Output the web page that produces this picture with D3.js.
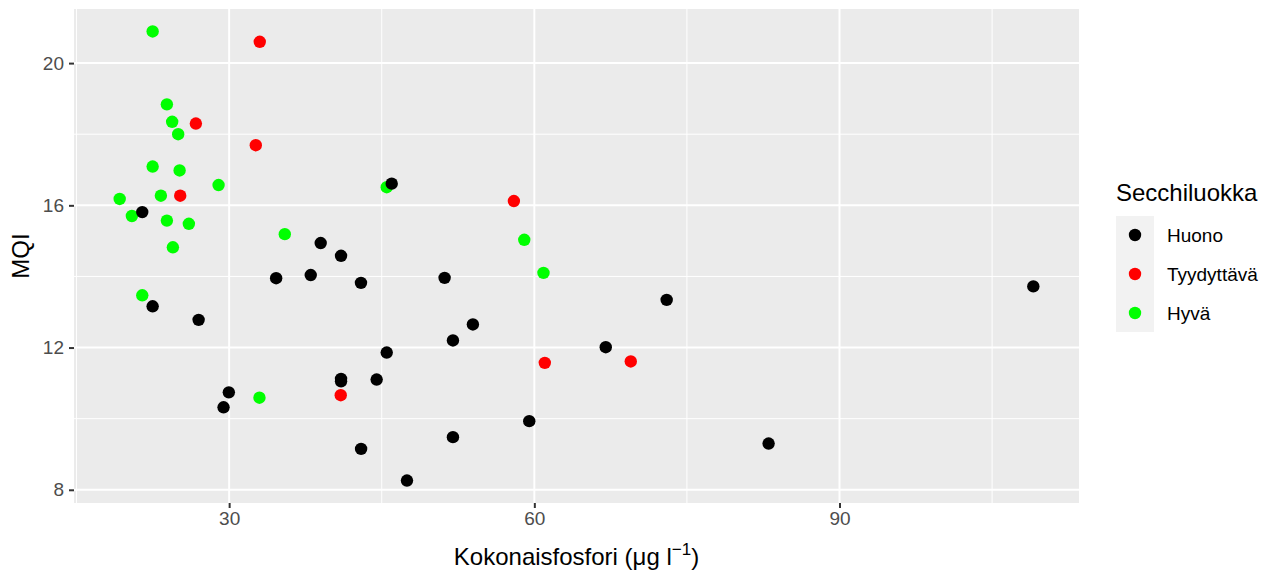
<!DOCTYPE html>
<html>
<head>
<meta charset="utf-8">
<script src="https://cdn.jsdelivr.net/npm/d3@7"></script>
<style>
    body { margin: 0; background: #fff; }
    text { font-family: "Liberation Sans", Arial, sans-serif; }
</style>
</head>
<body>
<div id="chart"></div>
<script>
// data: [kokonaisfosfori, MQI]
var huono = [
    [21.46, 15.81], [45.98, 16.61], [39.0, 14.94], [41.0, 14.58], [38.02, 14.04],
    [34.62, 13.95], [42.96, 13.82], [51.18, 13.96], [73.01, 13.34], [22.48, 13.16],
    [27.0, 12.78], [53.96, 12.65], [52.0, 12.2], [45.49, 11.86], [67.02, 12.01],
    [41.0, 11.12], [41.0, 11.05], [44.5, 11.1], [29.97, 10.74], [29.45, 10.32],
    [59.5, 9.93], [52.0, 9.48], [42.97, 9.15], [47.48, 8.26], [109.05, 13.72],
    [83.03, 9.30]
];
var tyydyttava = [
    [33.01, 20.6], [26.73, 18.3], [32.62, 17.69], [25.19, 16.27], [57.99, 16.12],
    [61.03, 11.57], [69.48, 11.61], [40.97, 10.66]
];
var hyva = [
    [22.48, 20.89], [23.88, 18.84], [24.4, 18.35], [24.99, 18.0], [22.48, 17.09],
    [25.13, 16.98], [28.96, 16.57], [19.24, 16.18], [23.29, 16.27], [20.44, 15.70],
    [23.88, 15.57], [26.04, 15.48], [24.47, 14.82], [35.47, 15.19], [45.49, 16.51],
    [59.01, 15.03], [60.90, 14.10], [21.46, 13.47], [32.98, 10.59]
];
var categories = ["Huono", "Tyydyttävä", "Hyvä"];
var xTicks = [30, 60, 90];
var xMinor = [15, 45, 75, 105];
var yTicks = [8, 12, 16, 20];
var yMinor = [10, 14, 18];

function renderScatter(position) {

    var margin = {top: 9, right: 193, bottom: 71, left: 74},
        width = 1272 - margin.left - margin.right,
        height = 574 - margin.top - margin.bottom;

    var svg = d3.select("#" + position)
        .append("svg")
        .attr("width", 1272)
        .attr("height", 574)
        .append("g")
        .attr("transform", "translate(" + margin.left + "," + margin.top + ")");

    var series = [
        {key: "Hyvä", values: hyva},
        {key: "Tyydyttävä", values: tyydyttava},
        {key: "Huono", values: huono}
    ];
    var all = huono.concat(tyydyttava, hyva);

    // ggplot-style 5% expansion
    var xe = d3.extent(all, function (d) { return d[0]; }),
        ye = d3.extent(all, function (d) { return d[1]; });
    var xp = (xe[1] - xe[0]) * 0.05, yp = (ye[1] - ye[0]) * 0.05;

    var x = d3.scaleLinear().domain([xe[0] - xp, xe[1] + xp]).range([0, width]);
    var y = d3.scaleLinear().domain([ye[0] - yp, ye[1] + yp]).range([height, 0]);

    var color = d3.scaleOrdinal()
        .domain(categories)
        .range(["#000000", "#FF0000", "#00FF00"]);

    // panel
    svg.append("rect")
        .attr("width", width)
        .attr("height", height)
        .attr("fill", "#EBEBEB");

    // minor grid
    svg.append("g").selectAll("line").data(xMinor).enter().append("line")
        .attr("x1", function (d) { return x(d); }).attr("x2", function (d) { return x(d); })
        .attr("y1", 0).attr("y2", height)
        .attr("stroke", "#fff").attr("stroke-width", 1);
    svg.append("g").selectAll("line").data(yMinor).enter().append("line")
        .attr("y1", function (d) { return y(d); }).attr("y2", function (d) { return y(d); })
        .attr("x1", 0).attr("x2", width)
        .attr("stroke", "#fff").attr("stroke-width", 1);

    // major grid
    svg.append("g").selectAll("line").data(xTicks).enter().append("line")
        .attr("x1", function (d) { return x(d); }).attr("x2", function (d) { return x(d); })
        .attr("y1", 0).attr("y2", height)
        .attr("stroke", "#fff").attr("stroke-width", 2);
    svg.append("g").selectAll("line").data(yTicks).enter().append("line")
        .attr("y1", function (d) { return y(d); }).attr("y2", function (d) { return y(d); })
        .attr("x1", 0).attr("x2", width)
        .attr("stroke", "#fff").attr("stroke-width", 2);

    // axes
    var xAxis = svg.append("g")
        .attr("transform", "translate(0," + height + ")")
        .call(d3.axisBottom(x).tickValues(xTicks).tickSize(5).tickPadding(4));
    var yAxis = svg.append("g")
        .call(d3.axisLeft(y).tickValues(yTicks).tickSize(5).tickPadding(5));
    [xAxis, yAxis].forEach(function (a) {
        a.select(".domain").remove();
        a.selectAll(".tick line").attr("stroke", "#333").attr("stroke-width", 2);
        a.selectAll(".tick text")
            .attr("fill", "#4D4D4D")
            .style("font-size", "19px")
            .style("font-family", "'Liberation Sans', Arial, sans-serif");
    });

    // points
    svg.append("g")
        .selectAll("g")
        .data(series)
        .enter().append("g")
        .attr("fill", function (d) { return color(d.key); })
        .selectAll("circle")
        .data(function (d) { return d.values; })
        .enter().append("circle")
        .attr("cx", function (d) { return x(d[0]); })
        .attr("cy", function (d) { return y(d[1]); })
        .attr("r", 6.2);

    // axis titles
    var xt = svg.append("text")
        .attr("x", width / 2)
        .attr("y", height + 62)
        .attr("text-anchor", "middle")
        .style("font-size", "24px")
        .attr("fill", "#000");
    xt.append("tspan").text("Kokonaisfosfori (μg l");
    xt.append("tspan").attr("dy", -10).style("font-size", "17px").text("−1");
    xt.append("tspan").attr("dy", 10).text(")");

    svg.append("text")
        .attr("transform", "rotate(-90)")
        .attr("x", -height / 2)
        .attr("y", -45)
        .attr("text-anchor", "middle")
        .style("font-size", "24px")
        .text("MQI");

    // legend
    var lg = d3.select("#" + position + " svg").append("g")
        .attr("transform", "translate(1116,0)");
    lg.append("text")
        .attr("x", 0)
        .attr("y", 201)
        .style("font-size", "24px")
        .text("Secchiluokka");
    lg.append("rect")
        .attr("x", 0).attr("y", 216)
        .attr("width", 38).attr("height", 116)
        .attr("fill", "#F2F2F2");
    var item = lg.selectAll(".legend")
        .data(categories)
        .enter().append("g")
        .attr("class", "legend")
        .attr("transform", function (d, i) {
            return "translate(0," + (235 + i * 39) + ")";
        });
    item.append("circle")
        .attr("cx", 19)
        .attr("r", 6.2)
        .attr("fill", function (d) { return color(d); });
    item.append("text")
        .attr("x", 51)
        .attr("dy", ".35em")
        .style("font-size", "19px")
        .text(function (d) { return d; });
}

renderScatter("chart");
</script>
</body>
</html>
